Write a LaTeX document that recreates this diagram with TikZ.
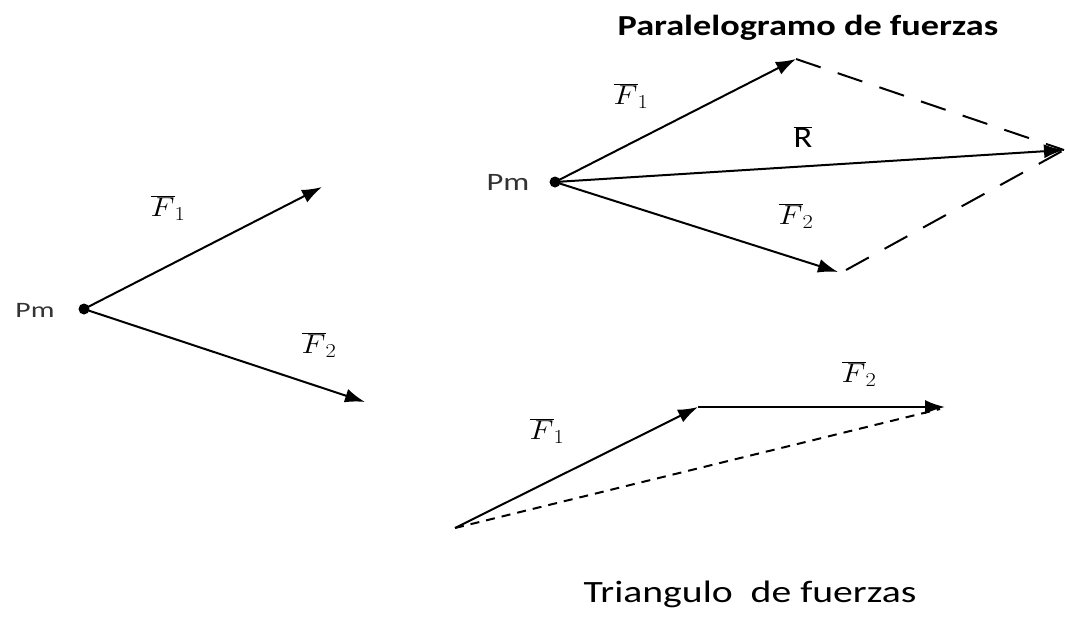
\documentclass[tikz,border=0pt]{standalone}
\usepackage{fontspec}
\setmainfont{Carlito}
\usetikzlibrary{arrows.meta}
\newcommand\sx[2]{\scalebox{#1}[1]{#2}}
\newcommand\fl[1]{\scalebox{1.25}[1.1]{$\overline{F}_{\scalebox{0.72}{$\textstyle #1$}}$}}
\tikzset{
  vec/.style={line width=2pt,-{Latex[length=20pt,width=14pt]}},
  dot/.style={circle,fill=black,inner sep=0pt,minimum size=11pt},
  lbl/.style={font=\fontsize{22}{26}\selectfont,anchor=base,inner sep=0pt},
  flbl/.style={font=\fontsize{25}{30}\selectfont},
  dsh/.style={line width=2pt,dash pattern=on 26pt off 18pt},
  dsh2/.style={line width=2pt,dash pattern=on 9pt off 7pt}
}
\begin{document}
\begin{tikzpicture}[x=1pt,y=-1pt]
\useasboundingbox (0,0) rectangle (1065,616);
% left
\node[dot] (p1) at (84,309) {};
\node[lbl,text=black!80] (pm1) at (35,317) {\sx{1.35}{Pm}};
\coordinate (a1) at (322,187);
\coordinate (a2) at (365,402);
\draw[vec] (p1.center) -- (a1);
\draw[vec] (p1.center) -- (a2);
\node[flbl] (f1a) at (168,208) {\fl{1}};
\node[flbl] (f2a) at (319,345) {\fl{2}};
% parallelogram
\node[font=\bfseries\fontsize{29}{34}\selectfont,anchor=base,inner sep=0pt] (t1) at (808,35) {\sx{1.25}{Paralelogramo de fuerzas}};
\node[dot] (p2) at (555,182) {};
\node[lbl,font=\fontsize{25}{30}\selectfont,text=black!80] (pm2) at (508,190) {\sx{1.3}{Pm}};
\coordinate (b1) at (796,59);
\coordinate (b2) at (838,272);
\coordinate (r) at (1064,150);
\draw[vec] (p2.center) -- (b1);
\draw[vec] (p2.center) -- (b2);
\draw[vec] (p2.center) -- (r);
\draw[dsh] (b1) -- (r);
\draw[dsh] (846,270) -- (r);
\node[flbl] (f1b) at (631,96) {\fl{1}};
\node[flbl] (f2b) at (796,216) {\fl{2}};
\node[font=\fontsize{30}{34}\selectfont,inner sep=0pt] (rl) at (803,137) {\sx{1.15}{$\overline{\mbox{R}}$}};
% triangle
\coordinate (c0) at (455,528);
\coordinate (c1) at (698,407);
\coordinate (c2) at (945,407);
\draw[vec] (c0) -- (c1);
\draw[vec] (c1) -- (c2);
\draw[dsh2] (c0) -- (940,409);
\node[flbl] (f1c) at (547,431) {\fl{1}};
\node[flbl] (f2c) at (859,374) {\fl{2}};
\node[font=\fontsize{31}{36}\selectfont,anchor=base,inner sep=0pt] (t2) at (750,602) {\sx{1.28}{Triangulo\ \ de fuerzas}};
\end{tikzpicture}
\end{document}
